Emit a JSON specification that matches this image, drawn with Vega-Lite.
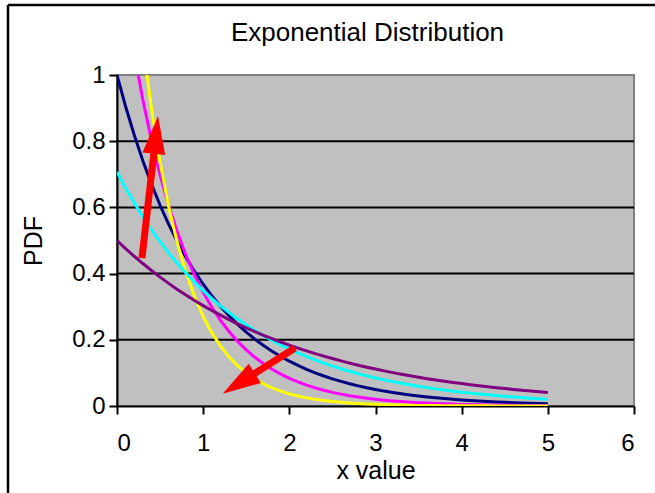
{
  "$schema": "https://vega.github.io/schema/vega-lite/v6.json",
  "width": 517,
  "height": 331,
  "autosize": {"type": "none"},
  "padding": {"left": 117, "top": 75, "right": 21, "bottom": 87},
  "background": "white",
  "config": {
    "font": "Liberation Sans",
    "view": {"fill": "#c0c0c0", "stroke": "#808080", "strokeWidth": 2}
  },
  "title": {
    "text": "Exponential Distribution",
    "fontSize": 26,
    "fontWeight": "normal",
    "color": "black",
    "baseline": "alphabetic",
    "frame": "group",
    "offset": -63,
    "dx": -8
  },
  "datasets": {
    "curves": [
      {"x":0,"rate":"1","pdf":1},{"x":0.1,"rate":"1","pdf":0.9048},{"x":0.2,"rate":"1","pdf":0.8187},{"x":0.3,"rate":"1","pdf":0.7408},{"x":0.4,"rate":"1","pdf":0.6703},{"x":0.5,"rate":"1","pdf":0.6065},{"x":0.6,"rate":"1","pdf":0.5488},{"x":0.7,"rate":"1","pdf":0.4966},{"x":0.8,"rate":"1","pdf":0.4493},{"x":0.9,"rate":"1","pdf":0.4066},
      {"x":1,"rate":"1","pdf":0.3679},{"x":1.1,"rate":"1","pdf":0.3329},{"x":1.2,"rate":"1","pdf":0.3012},{"x":1.3,"rate":"1","pdf":0.2725},{"x":1.4,"rate":"1","pdf":0.2466},{"x":1.5,"rate":"1","pdf":0.2231},{"x":1.6,"rate":"1","pdf":0.2019},{"x":1.7,"rate":"1","pdf":0.1827},{"x":1.8,"rate":"1","pdf":0.1653},{"x":1.9,"rate":"1","pdf":0.1496},
      {"x":2,"rate":"1","pdf":0.1353},{"x":2.1,"rate":"1","pdf":0.1225},{"x":2.2,"rate":"1","pdf":0.1108},{"x":2.3,"rate":"1","pdf":0.1003},{"x":2.4,"rate":"1","pdf":0.0907},{"x":2.5,"rate":"1","pdf":0.0821},{"x":2.6,"rate":"1","pdf":0.0743},{"x":2.7,"rate":"1","pdf":0.0672},{"x":2.8,"rate":"1","pdf":0.0608},{"x":2.9,"rate":"1","pdf":0.055},
      {"x":3,"rate":"1","pdf":0.0498},{"x":3.1,"rate":"1","pdf":0.045},{"x":3.2,"rate":"1","pdf":0.0408},{"x":3.3,"rate":"1","pdf":0.0369},{"x":3.4,"rate":"1","pdf":0.0334},{"x":3.5,"rate":"1","pdf":0.0302},{"x":3.6,"rate":"1","pdf":0.0273},{"x":3.7,"rate":"1","pdf":0.0247},{"x":3.8,"rate":"1","pdf":0.0224},{"x":3.9,"rate":"1","pdf":0.0202},
      {"x":4,"rate":"1","pdf":0.0183},{"x":4.1,"rate":"1","pdf":0.0166},{"x":4.2,"rate":"1","pdf":0.015},{"x":4.3,"rate":"1","pdf":0.0136},{"x":4.4,"rate":"1","pdf":0.0123},{"x":4.5,"rate":"1","pdf":0.0111},{"x":4.6,"rate":"1","pdf":0.0101},{"x":4.7,"rate":"1","pdf":0.0091},{"x":4.8,"rate":"1","pdf":0.0082},{"x":4.9,"rate":"1","pdf":0.0074},{"x":5,"rate":"1","pdf":0.0067},

      {"x":0,"rate":"1.414","pdf":1.4142},{"x":0.1,"rate":"1.414","pdf":1.2277},{"x":0.2,"rate":"1.414","pdf":1.0658},{"x":0.3,"rate":"1.414","pdf":0.9253},{"x":0.4,"rate":"1.414","pdf":0.8032},{"x":0.5,"rate":"1.414","pdf":0.6973},{"x":0.6,"rate":"1.414","pdf":0.6054},{"x":0.7,"rate":"1.414","pdf":0.5255},{"x":0.8,"rate":"1.414","pdf":0.4562},{"x":0.9,"rate":"1.414","pdf":0.3961},
      {"x":1,"rate":"1.414","pdf":0.3438},{"x":1.1,"rate":"1.414","pdf":0.2985},{"x":1.2,"rate":"1.414","pdf":0.2591},{"x":1.3,"rate":"1.414","pdf":0.225},{"x":1.4,"rate":"1.414","pdf":0.1953},{"x":1.5,"rate":"1.414","pdf":0.1695},{"x":1.6,"rate":"1.414","pdf":0.1472},{"x":1.7,"rate":"1.414","pdf":0.1278},{"x":1.8,"rate":"1.414","pdf":0.1109},{"x":1.9,"rate":"1.414","pdf":0.0963},
      {"x":2,"rate":"1.414","pdf":0.0836},{"x":2.1,"rate":"1.414","pdf":0.0726},{"x":2.2,"rate":"1.414","pdf":0.063},{"x":2.3,"rate":"1.414","pdf":0.0547},{"x":2.4,"rate":"1.414","pdf":0.0475},{"x":2.5,"rate":"1.414","pdf":0.0412},{"x":2.6,"rate":"1.414","pdf":0.0358},{"x":2.7,"rate":"1.414","pdf":0.0311},{"x":2.8,"rate":"1.414","pdf":0.027},{"x":2.9,"rate":"1.414","pdf":0.0234},
      {"x":3,"rate":"1.414","pdf":0.0203},{"x":3.1,"rate":"1.414","pdf":0.0176},{"x":3.2,"rate":"1.414","pdf":0.0153},{"x":3.3,"rate":"1.414","pdf":0.0133},{"x":3.4,"rate":"1.414","pdf":0.0115},{"x":3.5,"rate":"1.414","pdf":0.01},{"x":3.6,"rate":"1.414","pdf":0.0087},{"x":3.7,"rate":"1.414","pdf":0.0076},{"x":3.8,"rate":"1.414","pdf":0.0066},{"x":3.9,"rate":"1.414","pdf":0.0057},
      {"x":4,"rate":"1.414","pdf":0.0049},{"x":4.1,"rate":"1.414","pdf":0.0043},{"x":4.2,"rate":"1.414","pdf":0.0037},{"x":4.3,"rate":"1.414","pdf":0.0032},{"x":4.4,"rate":"1.414","pdf":0.0028},{"x":4.5,"rate":"1.414","pdf":0.0024},{"x":4.6,"rate":"1.414","pdf":0.0021},{"x":4.7,"rate":"1.414","pdf":0.0018},{"x":4.8,"rate":"1.414","pdf":0.0016},{"x":4.9,"rate":"1.414","pdf":0.0014},{"x":5,"rate":"1.414","pdf":0.0012},

      {"x":0,"rate":"2","pdf":2},{"x":0.1,"rate":"2","pdf":1.6375},{"x":0.2,"rate":"2","pdf":1.3406},{"x":0.3,"rate":"2","pdf":1.0976},{"x":0.4,"rate":"2","pdf":0.8987},{"x":0.5,"rate":"2","pdf":0.7358},{"x":0.6,"rate":"2","pdf":0.6024},{"x":0.7,"rate":"2","pdf":0.4932},{"x":0.8,"rate":"2","pdf":0.4038},{"x":0.9,"rate":"2","pdf":0.3306},
      {"x":1,"rate":"2","pdf":0.2707},{"x":1.1,"rate":"2","pdf":0.2216},{"x":1.2,"rate":"2","pdf":0.1815},{"x":1.3,"rate":"2","pdf":0.1486},{"x":1.4,"rate":"2","pdf":0.1216},{"x":1.5,"rate":"2","pdf":0.0996},{"x":1.6,"rate":"2","pdf":0.0815},{"x":1.7,"rate":"2","pdf":0.0667},{"x":1.8,"rate":"2","pdf":0.0546},{"x":1.9,"rate":"2","pdf":0.0447},
      {"x":2,"rate":"2","pdf":0.0366},{"x":2.1,"rate":"2","pdf":0.03},{"x":2.2,"rate":"2","pdf":0.0246},{"x":2.3,"rate":"2","pdf":0.0201},{"x":2.4,"rate":"2","pdf":0.0165},{"x":2.5,"rate":"2","pdf":0.0135},{"x":2.6,"rate":"2","pdf":0.011},{"x":2.7,"rate":"2","pdf":0.009},{"x":2.8,"rate":"2","pdf":0.0074},{"x":2.9,"rate":"2","pdf":0.0061},
      {"x":3,"rate":"2","pdf":0.005},{"x":3.1,"rate":"2","pdf":0.0041},{"x":3.2,"rate":"2","pdf":0.0033},{"x":3.3,"rate":"2","pdf":0.0027},{"x":3.4,"rate":"2","pdf":0.0022},{"x":3.5,"rate":"2","pdf":0.0018},{"x":3.6,"rate":"2","pdf":0.0015},{"x":3.7,"rate":"2","pdf":0.0012},{"x":3.8,"rate":"2","pdf":0.001},{"x":3.9,"rate":"2","pdf":0.0008},
      {"x":4,"rate":"2","pdf":0.0007},{"x":4.1,"rate":"2","pdf":0.0005},{"x":4.2,"rate":"2","pdf":0.0004},{"x":4.3,"rate":"2","pdf":0.0004},{"x":4.4,"rate":"2","pdf":0.0003},{"x":4.5,"rate":"2","pdf":0.0002},{"x":4.6,"rate":"2","pdf":0.0002},{"x":4.7,"rate":"2","pdf":0.0002},{"x":4.8,"rate":"2","pdf":0.0001},{"x":4.9,"rate":"2","pdf":0.0001},{"x":5,"rate":"2","pdf":0.0001},

      {"x":0,"rate":"0.707","pdf":0.7071},{"x":0.1,"rate":"0.707","pdf":0.6588},{"x":0.2,"rate":"0.707","pdf":0.6139},{"x":0.3,"rate":"0.707","pdf":0.572},{"x":0.4,"rate":"0.707","pdf":0.5329},{"x":0.5,"rate":"0.707","pdf":0.4965},{"x":0.6,"rate":"0.707","pdf":0.4626},{"x":0.7,"rate":"0.707","pdf":0.431},{"x":0.8,"rate":"0.707","pdf":0.4016},{"x":0.9,"rate":"0.707","pdf":0.3742},
      {"x":1,"rate":"0.707","pdf":0.3487},{"x":1.1,"rate":"0.707","pdf":0.3249},{"x":1.2,"rate":"0.707","pdf":0.3027},{"x":1.3,"rate":"0.707","pdf":0.282},{"x":1.4,"rate":"0.707","pdf":0.2628},{"x":1.5,"rate":"0.707","pdf":0.2448},{"x":1.6,"rate":"0.707","pdf":0.2281},{"x":1.7,"rate":"0.707","pdf":0.2125},{"x":1.8,"rate":"0.707","pdf":0.198},{"x":1.9,"rate":"0.707","pdf":0.1845},
      {"x":2,"rate":"0.707","pdf":0.1719},{"x":2.1,"rate":"0.707","pdf":0.1602},{"x":2.2,"rate":"0.707","pdf":0.1492},{"x":2.3,"rate":"0.707","pdf":0.1391},{"x":2.4,"rate":"0.707","pdf":0.1296},{"x":2.5,"rate":"0.707","pdf":0.1207},{"x":2.6,"rate":"0.707","pdf":0.1125},{"x":2.7,"rate":"0.707","pdf":0.1048},{"x":2.8,"rate":"0.707","pdf":0.0976},{"x":2.9,"rate":"0.707","pdf":0.091},
      {"x":3,"rate":"0.707","pdf":0.0848},{"x":3.1,"rate":"0.707","pdf":0.079},{"x":3.2,"rate":"0.707","pdf":0.0736},{"x":3.3,"rate":"0.707","pdf":0.0686},{"x":3.4,"rate":"0.707","pdf":0.0639},{"x":3.5,"rate":"0.707","pdf":0.0595},{"x":3.6,"rate":"0.707","pdf":0.0555},{"x":3.7,"rate":"0.707","pdf":0.0517},{"x":3.8,"rate":"0.707","pdf":0.0481},{"x":3.9,"rate":"0.707","pdf":0.0449},
      {"x":4,"rate":"0.707","pdf":0.0418},{"x":4.1,"rate":"0.707","pdf":0.0389},{"x":4.2,"rate":"0.707","pdf":0.0363},{"x":4.3,"rate":"0.707","pdf":0.0338},{"x":4.4,"rate":"0.707","pdf":0.0315},{"x":4.5,"rate":"0.707","pdf":0.0294},{"x":4.6,"rate":"0.707","pdf":0.0273},{"x":4.7,"rate":"0.707","pdf":0.0255},{"x":4.8,"rate":"0.707","pdf":0.0237},{"x":4.9,"rate":"0.707","pdf":0.0221},{"x":5,"rate":"0.707","pdf":0.0206},

      {"x":0,"rate":"0.5","pdf":0.5},{"x":0.1,"rate":"0.5","pdf":0.4756},{"x":0.2,"rate":"0.5","pdf":0.4524},{"x":0.3,"rate":"0.5","pdf":0.4304},{"x":0.4,"rate":"0.5","pdf":0.4094},{"x":0.5,"rate":"0.5","pdf":0.3894},{"x":0.6,"rate":"0.5","pdf":0.3704},{"x":0.7,"rate":"0.5","pdf":0.3523},{"x":0.8,"rate":"0.5","pdf":0.3352},{"x":0.9,"rate":"0.5","pdf":0.3188},
      {"x":1,"rate":"0.5","pdf":0.3033},{"x":1.1,"rate":"0.5","pdf":0.2885},{"x":1.2,"rate":"0.5","pdf":0.2744},{"x":1.3,"rate":"0.5","pdf":0.261},{"x":1.4,"rate":"0.5","pdf":0.2483},{"x":1.5,"rate":"0.5","pdf":0.2362},{"x":1.6,"rate":"0.5","pdf":0.2247},{"x":1.7,"rate":"0.5","pdf":0.2137},{"x":1.8,"rate":"0.5","pdf":0.2033},{"x":1.9,"rate":"0.5","pdf":0.1934},
      {"x":2,"rate":"0.5","pdf":0.1839},{"x":2.1,"rate":"0.5","pdf":0.175},{"x":2.2,"rate":"0.5","pdf":0.1664},{"x":2.3,"rate":"0.5","pdf":0.1583},{"x":2.4,"rate":"0.5","pdf":0.1506},{"x":2.5,"rate":"0.5","pdf":0.1433},{"x":2.6,"rate":"0.5","pdf":0.1363},{"x":2.7,"rate":"0.5","pdf":0.1296},{"x":2.8,"rate":"0.5","pdf":0.1233},{"x":2.9,"rate":"0.5","pdf":0.1173},
      {"x":3,"rate":"0.5","pdf":0.1116},{"x":3.1,"rate":"0.5","pdf":0.1061},{"x":3.2,"rate":"0.5","pdf":0.1009},{"x":3.3,"rate":"0.5","pdf":0.096},{"x":3.4,"rate":"0.5","pdf":0.0913},{"x":3.5,"rate":"0.5","pdf":0.0869},{"x":3.6,"rate":"0.5","pdf":0.0826},{"x":3.7,"rate":"0.5","pdf":0.0786},{"x":3.8,"rate":"0.5","pdf":0.0748},{"x":3.9,"rate":"0.5","pdf":0.0711},
      {"x":4,"rate":"0.5","pdf":0.0677},{"x":4.1,"rate":"0.5","pdf":0.0644},{"x":4.2,"rate":"0.5","pdf":0.0612},{"x":4.3,"rate":"0.5","pdf":0.0582},{"x":4.4,"rate":"0.5","pdf":0.0554},{"x":4.5,"rate":"0.5","pdf":0.0527},{"x":4.6,"rate":"0.5","pdf":0.0501},{"x":4.7,"rate":"0.5","pdf":0.0477},{"x":4.8,"rate":"0.5","pdf":0.0454},{"x":4.9,"rate":"0.5","pdf":0.0431},{"x":5,"rate":"0.5","pdf":0.041}
    ],
    "gridlines": [{"pdf": 0.2}, {"pdf": 0.4}, {"pdf": 0.6}, {"pdf": 0.8}],
    "frame": [
      {"x": -1.265, "x2": -1.265, "pdf": -0.3, "pdf2": 1.2115},
      {"x": -1.265, "x2": 6.5, "pdf": 1.2115, "pdf2": 1.2115}
    ],
    "shafts": [
      {"x": 0.29, "x2": 0.452, "pdf": 0.447, "pdf2": 0.819},
      {"x": 2.066, "x2": 1.413, "pdf": 0.175, "pdf2": 0.068}
    ],
    "headUp": [{"x": 0.452, "pdf": 0.819}],
    "headDown": [{"x": 1.413, "pdf": 0.068}]
  },
  "layer": [
    {
      "data": {"name": "gridlines"},
      "mark": {"type": "rule", "color": "black", "strokeWidth": 2},
      "encoding": {
        "y": {"field": "pdf", "type": "quantitative", "scale": {"domain": [0, 1], "nice": false}}
      }
    },
    {
      "data": {"name": "curves"},
      "mark": {"type": "line", "strokeWidth": 3, "clip": true},
      "encoding": {
        "x": {
          "field": "x", "type": "quantitative",
          "scale": {"domain": [0, 6], "nice": false},
          "axis": {
            "values": [0, 1, 2, 3, 4, 5, 6], "grid": false, "format": "~g",
            "domainColor": "black", "domainWidth": 2,
            "tickColor": "black", "tickWidth": 2, "tickSize": 8,
            "labelFontSize": 24, "labelColor": "black", "labelPadding": 17,
            "title": "x value", "titleFontSize": 25, "titleFontWeight": "normal", "titleColor": "black", "titlePadding": 3
          }
        },
        "y": {
          "field": "pdf", "type": "quantitative",
          "scale": {"domain": [0, 1], "nice": false},
          "axis": {
            "values": [0, 0.2, 0.4, 0.6, 0.8, 1], "grid": false, "format": "~g",
            "domainColor": "black", "domainWidth": 2,
            "tickColor": "black", "tickWidth": 2, "tickSize": 8,
            "labelFontSize": 24, "labelColor": "black", "labelPadding": 4,
            "title": "PDF", "titleFontSize": 25, "titleFontWeight": "normal", "titleColor": "black", "titlePadding": 25
          }
        },
        "color": {
          "field": "rate", "type": "nominal", "legend": null,
          "scale": {"domain": ["1", "1.414", "2", "0.707", "0.5"], "range": ["#000080", "#FF00FF", "#FFFF00", "#00FFFF", "#800080"]}
        }
      }
    },
    {
      "data": {"name": "shafts"},
      "mark": {"type": "rule", "color": "#FF0000", "strokeWidth": 7, "strokeCap": "butt"},
      "encoding": {
        "x": {"field": "x", "type": "quantitative"},
        "x2": {"field": "x2"},
        "y": {"field": "pdf", "type": "quantitative"},
        "y2": {"field": "pdf2"}
      }
    },
    {
      "data": {"name": "headUp"},
      "mark": {"type": "point", "shape": "M0,-1L0.6,1L-0.6,1Z", "size": 1444, "filled": true, "color": "#FF0000", "opacity": 1, "angle": 6.4},
      "encoding": {
        "x": {"field": "x", "type": "quantitative"},
        "y": {"field": "pdf", "type": "quantitative"}
      }
    },
    {
      "data": {"name": "headDown"},
      "mark": {"type": "point", "shape": "M0,-1L0.6,1L-0.6,1Z", "size": 1444, "filled": true, "color": "#FF0000", "opacity": 1, "angle": 237.7},
      "encoding": {
        "x": {"field": "x", "type": "quantitative"},
        "y": {"field": "pdf", "type": "quantitative"}
      }
    },
    {
      "data": {"name": "frame"},
      "mark": {"type": "rule", "color": "black", "strokeWidth": 2.5, "clip": false},
      "encoding": {
        "x": {"field": "x", "type": "quantitative"},
        "x2": {"field": "x2"},
        "y": {"field": "pdf", "type": "quantitative"},
        "y2": {"field": "pdf2"}
      }
    }
  ]
}
